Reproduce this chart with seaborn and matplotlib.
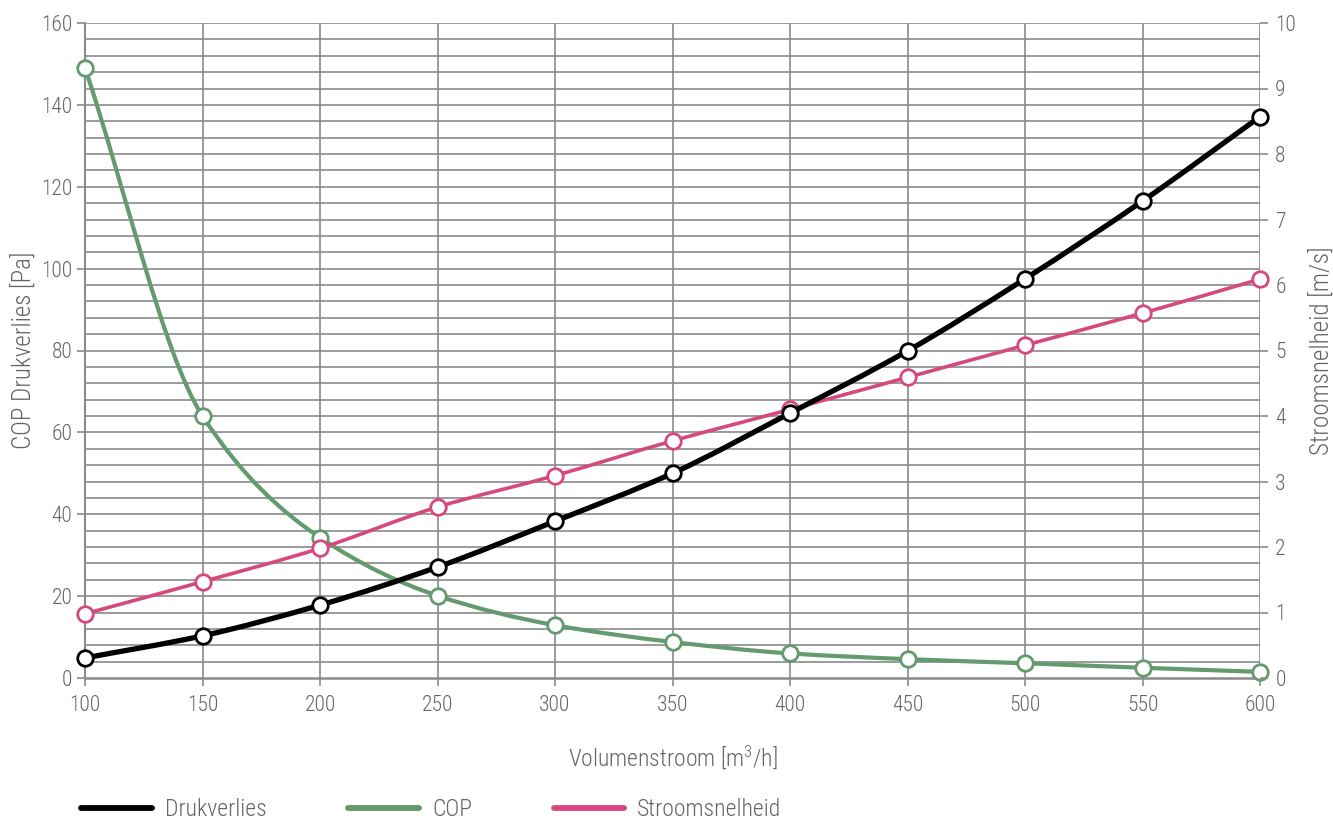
import numpy as np
import matplotlib
matplotlib.use("Agg")
import matplotlib.pyplot as plt
from matplotlib.path import Path
from matplotlib.patches import PathPatch
from matplotlib.lines import Line2D
from matplotlib import font_manager
import seaborn as sns

# Volume flow (x) and the three measured series
volumenstroom = [100, 150, 200, 250, 300, 350, 400, 450, 500, 550, 600]
drukverlies = [4.9, 10.3, 17.8, 27.1, 38.3, 50.0, 64.7, 79.9, 97.5, 116.5, 137.1]
cop = [149.0, 64.0, 34.3, 20.1, 12.9, 8.8, 6.0, 4.6, 3.6, 2.5, 1.5]
stroomsnelheid = [0.98, 1.47, 1.98, 2.61, 3.09, 3.62, 4.10, 4.59, 5.08, 5.57, 6.09]

x_ticks = [100, 150, 200, 250, 300, 350, 400, 450, 500, 550, 600]
left_ticks = [0, 20, 40, 60, 80, 100, 120, 140, 160]
right_ticks = [0, 1, 2, 3, 4, 5, 6, 7, 8, 9, 10]

series_names = ["Drukverlies", "COP", "Stroomsnelheid"]
BLACK = "#000000"
GREEN = "#639a6e"
PINK = "#d6497c"
TEXT = "#666666"
GRID = "#8a8a8a"

sns.set_theme(style="white")
installed = {f.name for f in font_manager.fontManager.ttflist}
families = [f for f in ["Roboto Condensed", "Liberation Sans Narrow", "DejaVu Sans"]
            if f in installed] or ["DejaVu Sans"]
plt.rcParams["font.family"] = families
plt.rcParams["font.stretch"] = "condensed"
plt.rcParams["font.weight"] = "light"
plt.rcParams["axes.labelweight"] = "light"
plt.rcParams["mathtext.fontset"] = "custom"
plt.rcParams["mathtext.rm"] = families[0] + ":light"
plt.rcParams["mathtext.it"] = families[0] + ":light"
plt.rcParams["text.color"] = TEXT


def smooth_path(xs, ys):
    """Monotone cubic (Fritsch-Carlson) Bezier path through the points."""
    xs = np.asarray(xs, float)
    ys = np.asarray(ys, float)
    h = np.diff(xs)
    d = np.diff(ys) / h
    m = np.zeros_like(ys)
    m[0], m[-1] = d[0], d[-1]
    for i in range(1, len(xs) - 1):
        if d[i - 1] * d[i] <= 0:
            m[i] = 0.0
        else:
            w1 = 2 * h[i] + h[i - 1]
            w2 = h[i] + 2 * h[i - 1]
            m[i] = (w1 + w2) / (w1 / d[i - 1] + w2 / d[i])
    verts = [(xs[0], ys[0])]
    codes = [Path.MOVETO]
    for i in range(len(xs) - 1):
        dx = h[i] / 3.0
        verts += [(xs[i] + dx, ys[i] + m[i] * dx),
                  (xs[i + 1] - dx, ys[i + 1] - m[i + 1] * dx),
                  (xs[i + 1], ys[i + 1])]
        codes += [Path.CURVE4] * 3
    return Path(verts, codes)


def draw_series(ax, xs, ys, color, lw, z):
    patch = PathPatch(smooth_path(xs, ys), facecolor="none", edgecolor=color,
                      linewidth=lw, capstyle="round", joinstyle="round", zorder=z)
    ax.add_patch(patch)
    sns.scatterplot(x=xs, y=ys, ax=ax, s=125, color="white", edgecolor=color,
                    linewidth=2.0, zorder=z + 1, legend=False, clip_on=False)


fig = plt.figure(figsize=(13.33, 8.23), dpi=100)
ax = fig.add_axes([85 / 1333, 1 - 678 / 823, (1260 - 85) / 1333, (678 - 23) / 823])
ax_r = ax.twinx()
ax_top = ax.twinx()

ax.set_xlim(100, 600)
ax.set_ylim(0, 160)
ax_r.set_ylim(0, 10)
ax_top.set_ylim(0, 160)

# Grid: vertical lines at each x tick, horizontal lines every 4 Pa
ax.set_xticks(x_ticks)
ax.set_yticks(left_ticks)
for gy in np.arange(4, 161, 4):
    ax.axhline(gy, color=GRID, linewidth=1.2, zorder=0)
for gx in x_ticks[1:]:
    ax.axvline(gx, color=GRID, linewidth=1.2, zorder=0)

ax.tick_params(axis="both", colors=GRID, labelcolor=TEXT, labelsize=15.5,
               length=6, width=1.2, direction="out", left=True, bottom=True)
ax.tick_params(axis="x", pad=6)
ax.tick_params(axis="y", pad=3)
ax_r.set_yticks(right_ticks)
ax_r.tick_params(axis="y", colors=GRID, labelcolor=TEXT, labelsize=15.5,
                 length=6, width=1.2, direction="out", right=True, pad=5)

for a in (ax, ax_r, ax_top):
    for s in a.spines.values():
        s.set_visible(False)
ax.spines["left"].set_visible(True)
ax.spines["bottom"].set_visible(True)
ax.spines["left"].set_color(GRID)
ax.spines["bottom"].set_color(GRID)
ax.spines["left"].set_linewidth(1.5)
ax.spines["bottom"].set_linewidth(1.8)

ax_top.set_yticks([])
ax_top.patch.set_visible(False)
ax_r.patch.set_visible(False)

# Series: COP bottom, speed in the middle, pressure loss on top
draw_series(ax, volumenstroom, cop, GREEN, 3.0, 3)
draw_series(ax_r, volumenstroom, stroomsnelheid, PINK, 2.6, 3)
draw_series(ax_top, volumenstroom, drukverlies, BLACK, 3.8, 3)

ax.set_xlabel("Volumenstroom [m$^3$/h]", fontsize=17, color=TEXT, labelpad=20)
ax.set_ylabel("COP Drukverlies [Pa]", fontsize=18, color=TEXT, labelpad=4)
ax_r.set_ylabel("Stroomsnelheid [m/s]", fontsize=18, color=TEXT, labelpad=9)

handles = [Line2D([], [], color=c, linewidth=4.2) for c in (BLACK, GREEN, PINK)]
fig.legend(handles, series_names, loc="center left",
           bbox_to_anchor=(60 / 1333, 1 - 810 / 823), ncol=3, frameon=False,
           fontsize=17, handlelength=3.0, handletextpad=0.55,
           columnspacing=3.45, labelcolor=TEXT)

fig.savefig("out.png", dpi=100)
